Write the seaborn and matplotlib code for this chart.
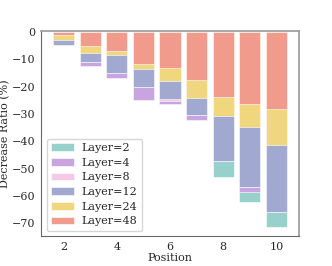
import numpy as np
import matplotlib
matplotlib.use("Agg")
import matplotlib.pyplot as plt
import seaborn as sns

sns.set_style("white")
plt.rcParams['font.family'] = ['DejaVu Serif']

# values (decrease ratio in %, each layer drawn from 0)
positions = [2, 3, 4, 5, 6, 7, 8, 9, 10]
layer_2 = [-4.9, -12.3, -16.8, -24.8, -26.5, -32.3, -52.9, -62.0, -71.3]
layer_4 = [-4.9, -12.3, -16.8, -24.8, -26.5, -32.3, -47.0, -58.4, -65.8]
layer_8 = [-4.9, -10.9, -15.0, -20.0, -25.2, -30.5, -47.0, -56.6, -65.8]
layer_12 = [-4.9, -10.9, -15.0, -20.0, -24.5, -30.5, -47.0, -56.6, -65.8]
layer_24 = [-2.9, -7.7, -8.5, -13.4, -17.8, -24.0, -30.6, -34.9, -41.2]
layer_48 = [-1.2, -5.0, -6.8, -11.7, -13.1, -17.7, -23.8, -26.5, -28.1]

labels = ["Layer=2", "Layer=4", "Layer=8", "Layer=12", "Layer=24", "Layer=48"]
series = [layer_2, layer_4, layer_8, layer_12, layer_24, layer_48]
colors = ["#98d0cc", "#c8a5e0", "#f5c8e6", "#a2a9d0", "#f0d67d", "#f09b8c"]

fig = plt.figure(figsize=(3.32, 2.66), dpi=100)
ax = fig.add_axes([0.1244, 0.1117, 0.7753, 0.77])

for vals, lab, col in zip(series, labels, colors):
    ax.bar(positions, vals, width=0.8, color=col, label=lab,
           edgecolor=(1, 1, 1, 0.6), linewidth=0.7)

ax.set_xlim(1.16, 10.84)
ax.set_ylim(-74.7, 0.2)
ax.set_xticks([2, 4, 6, 8, 10])
ax.set_yticks(np.arange(0, -71, -10))
ax.tick_params(axis='both', labelsize=8, length=2.5, width=0.8, color='#555555', pad=1.5)
ax.set_xlabel("Position", fontsize=8, labelpad=1)
ax.set_ylabel("Decrease Ratio (%)", fontsize=8, labelpad=1)

for side in ['top', 'right']:
    ax.spines[side].set_color('#999999')
    ax.spines[side].set_linewidth(1.2)
for side in ['left', 'bottom']:
    ax.spines[side].set_color('#666666')
    ax.spines[side].set_linewidth(0.8)

ax.legend(loc='lower left', fontsize=8, frameon=True, handlelength=2.0,
          handleheight=0.7, handletextpad=0.75, borderpad=0.4,
          labelspacing=0.42, borderaxespad=0.5)

plt.savefig("out.png", dpi=100)
